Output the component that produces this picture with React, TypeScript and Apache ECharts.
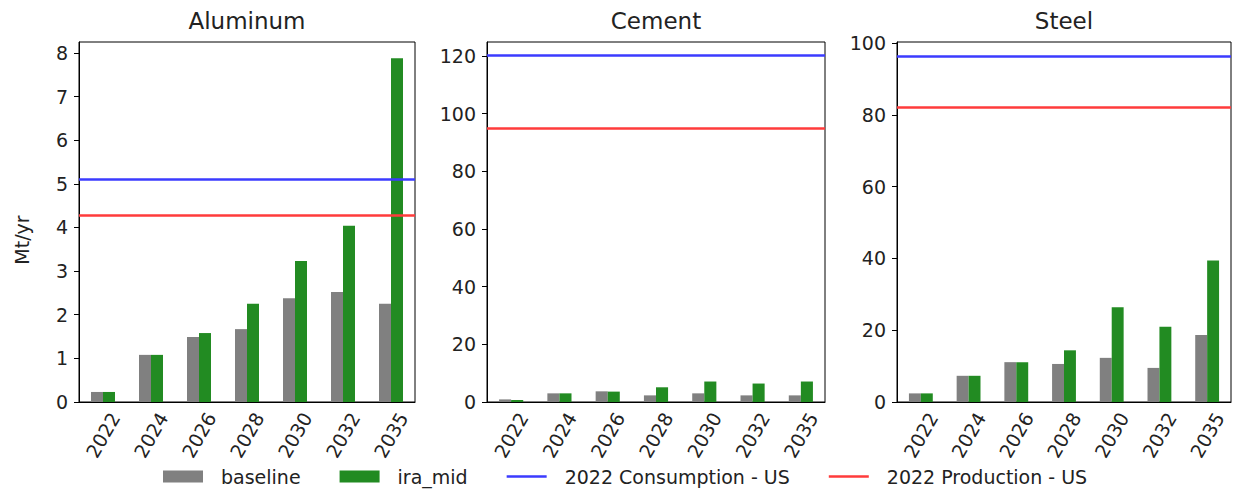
import React, { useEffect, useRef } from "react";
import * as echarts from "echarts";

// Years on the category axis
const categories = ["2022", "2024", "2026", "2028", "2030", "2032", "2035"];

// Annual demand, Mt/yr
const aluminumBaseline = [0.23, 1.08, 1.49, 1.67, 2.38, 2.52, 2.25];
const aluminumIraMid = [0.23, 1.08, 1.58, 2.25, 3.23, 4.04, 7.88];
const cementBaseline = [0.9, 3.0, 3.7, 2.3, 3.0, 2.3, 2.3];
const cementIraMid = [0.7, 3.0, 3.6, 5.1, 7.1, 6.4, 7.1];
const steelBaseline = [2.4, 7.3, 11.1, 10.6, 12.3, 9.5, 18.7];
const steelIraMid = [2.4, 7.3, 11.1, 14.4, 26.4, 21.0, 39.4];

// 2022 US reference levels: aluminum, cement, steel
const materials = ["Aluminum", "Cement", "Steel"];
const consumption2022 = [5.11, 120.1, 96.4];
const production2022 = [4.27, 95.0, 82.2];

// Axis ranges and tick values per panel
const axisMax = [8.25, 124.8, 100.3];
const aluminumTicks = [0, 1, 2, 3, 4, 5, 6, 7, 8];
const cementTicks = [0, 20, 40, 60, 80, 100, 120];
const steelTicks = [0, 20, 40, 60, 80, 100];
const unitLabel = "Mt/yr";

const FONT = "DejaVu Sans";
const TEXT = "#222";
const GRAY = "#808080";
const GREEN = "#228b22";
const BLUE = "#3b3bff";
const RED = "#ff3b3b";
const LINE_ICON = "path://M0,0H40V2.5H0Z";

const panels = [
  { left: 79, width: 336, baseline: aluminumBaseline, ira: aluminumIraMid, ticks: aluminumTicks },
  { left: 487, width: 338, baseline: cementBaseline, ira: cementIraMid, ticks: cementTicks },
  { left: 897, width: 334, baseline: steelBaseline, ira: steelIraMid, ticks: steelTicks },
];

export default function App() {
  const ref = useRef<HTMLDivElement>(null);

  useEffect(() => {
    if (!ref.current) return;
    const chart = echarts.init(ref.current, null, { renderer: "svg" });

    const grid = panels.map((p) => ({
      left: p.left,
      width: p.width,
      top: 42,
      height: 360,
      show: true,
      borderColor: "#000",
      borderWidth: 1,
      backgroundColor: "transparent",
    }));

    const xAxis = panels.map((_, i) => ({
      type: "category",
      gridIndex: i,
      data: categories,
      boundaryGap: true,
      axisLine: { lineStyle: { color: "#000", width: 1 } },
      axisTick: { alignWithLabel: true, length: 5, lineStyle: { color: "#000" } },
      axisLabel: {
        interval: 0,
        rotate: 60,
        align: "center",
        verticalAlign: "middle",
        margin: 33,
        fontSize: 19,
        fontFamily: FONT,
        color: TEXT,
      },
      splitLine: { show: false },
    }));

    const yAxis = panels.map((p, i) => ({
      type: "value",
      gridIndex: i,
      min: 0,
      max: axisMax[i],
      axisLine: { show: true, lineStyle: { color: "#000", width: 1 } },
      axisTick: { show: true, length: 5, customValues: p.ticks, lineStyle: { color: "#000" } },
      axisLabel: {
        customValues: p.ticks,
        margin: 11,
        fontSize: 19,
        fontFamily: FONT,
        color: TEXT,
      },
      splitLine: { show: false },
    }));

    const series: any[] = [];
    panels.forEach((p, i) => {
      series.push(
        {
          type: "bar",
          name: "baseline",
          xAxisIndex: i,
          yAxisIndex: i,
          data: p.baseline,
          barWidth: "25%",
          barGap: "0%",
          itemStyle: { color: GRAY },
        },
        {
          type: "bar",
          name: "ira_mid",
          xAxisIndex: i,
          yAxisIndex: i,
          data: p.ira,
          barWidth: "25%",
          barGap: "0%",
          itemStyle: { color: GREEN },
        },
        {
          type: "line",
          name: "2022 Consumption - US",
          xAxisIndex: i,
          yAxisIndex: i,
          data: [],
          color: BLUE,
          lineStyle: { color: BLUE, width: 2.5 },
          markLine: {
            silent: true,
            symbol: ["none", "none"],
            label: { show: false },
            lineStyle: { color: BLUE, width: 2.5, type: "solid" },
            data: [{ yAxis: consumption2022[i] }],
          },
        },
        {
          type: "line",
          name: "2022 Production - US",
          xAxisIndex: i,
          yAxisIndex: i,
          data: [],
          color: RED,
          lineStyle: { color: RED, width: 2.5 },
          markLine: {
            silent: true,
            symbol: ["none", "none"],
            label: { show: false },
            lineStyle: { color: RED, width: 2.5, type: "solid" },
            data: [{ yAxis: production2022[i] }],
          },
        }
      );
    });

    const titles = panels.map((p, i) => ({
      type: "text",
      x: p.left + p.width / 2,
      y: 21,
      style: {
        text: materials[i],
        fontSize: 23,
        fontFamily: FONT,
        fill: TEXT,
        textAlign: "center",
        textVerticalAlign: "middle",
      },
    }));

    chart.setOption({
      animation: false,
      backgroundColor: "#fff",
      grid,
      xAxis,
      yAxis,
      series,
      legend: {
        left: 163,
        top: 467,
        padding: 0,
        itemWidth: 40,
        itemHeight: 12,
        itemGap: 39,
        selectedMode: false,
        textStyle: { fontSize: 19, fontFamily: FONT, color: TEXT, padding: [0, 0, 0, 13] },
        data: [
          { name: "baseline", icon: "rect" },
          { name: "ira_mid", icon: "rect" },
          { name: "2022 Consumption - US", icon: LINE_ICON },
          { name: "2022 Production - US", icon: LINE_ICON },
        ],
      },
      graphic: [
        ...titles,
        {
          type: "text",
          x: 22,
          y: 240,
          rotation: Math.PI / 2,
          style: {
            text: unitLabel,
            fontSize: 19,
            fontFamily: FONT,
            fill: TEXT,
            textAlign: "center",
            textVerticalAlign: "middle",
          },
        },
      ],
    });

    return () => chart.dispose();
  }, []);

  return (
    <div
      ref={ref}
      style={{ position: "fixed", left: 0, top: 0, width: 1233, height: 492 }}
    />
  );
}
